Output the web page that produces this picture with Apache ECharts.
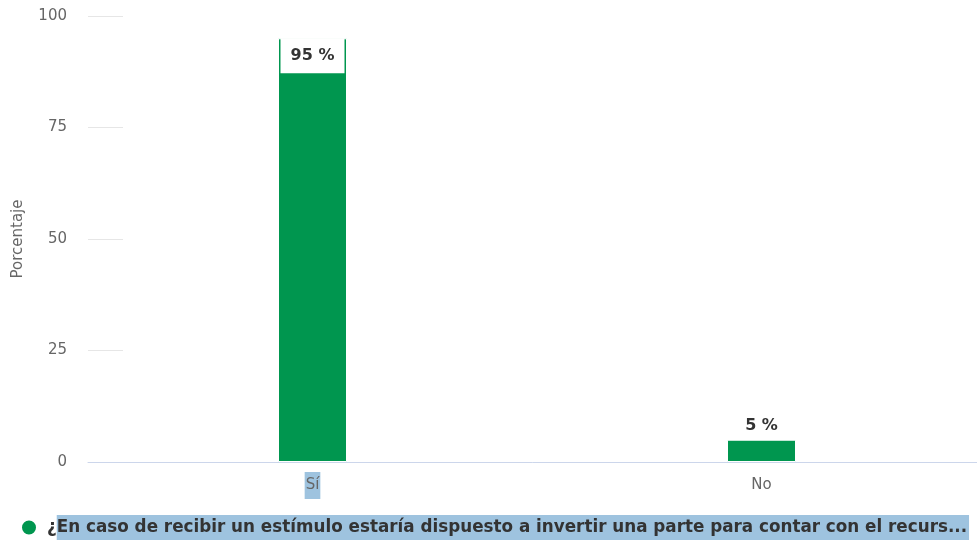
<!DOCTYPE html>
<html>
<head>
<meta charset="utf-8">
<script src="https://cdn.jsdelivr.net/npm/echarts@6/dist/echarts.min.js"></script>
<style>
  html, body { margin: 0; padding: 0; background: #fff; }
  #main { width: 977px; height: 544px; }
</style>
</head>
<body>
<div id="main"></div>
<script>
// datos
var categories = ['Sí', 'No'];
var valores = [95, 5];
var yTicks = [0, 25, 50, 75, 100];
var serieNombre = '¿En caso de recibir un estímulo estaría dispuesto a invertir una parte para contar con el recurs...';

var verde = '#00964f';
var resaltado = '#9ec3df';
var fuente = 'DejaVu Sans';

var chart = echarts.init(document.getElementById('main'));

// etiqueta de cada barra: la primera dentro con caja blanca
var datos = valores.map(function (v, i) {
	var item = { value: v };
	if (i === 0) {
		item.label = {
			position: 'insideTop',
			distance: 0,
			backgroundColor: '#fff',
			width: 64,
			padding: [8, 0, 8, 0],
			lineHeight: 19,
			align: 'center'
		};
	}
	return item;
});

var option = {
	animation: false,
	textStyle: { fontFamily: fuente },
	grid: { left: 88, top: 16, width: 898, height: 446, containLabel: false, outerBoundsMode: 'none' },
	legend: {
		left: 20,
		top: 515,
		padding: 0,
		icon: 'circle',
		itemWidth: 16,
		itemHeight: 16,
		itemGap: 8,
		data: [serieNombre],
		formatter: function (n) {
			return '{a|' + n.charAt(0) + '}{b|' + n.slice(1) + '}';
		},
		textStyle: {
			rich: {
				a: { fontFamily: fuente, fontSize: 16.8, fontWeight: 'bold', color: '#333', padding: [4, 0, 4, 5] },
				b: { fontFamily: fuente, fontSize: 16.8, fontWeight: 'bold', color: '#333', backgroundColor: resaltado, padding: [4, 2, 4, 0] }
			}
		}
	},
	xAxis: {
		type: 'category',
		data: categories,
		z: 5,
		axisLine: { show: true, lineStyle: { color: '#ccd6eb', width: 1 } },
		axisTick: { show: false },
		axisLabel: {
			margin: 10,
			formatter: function (v, i) {
				return i === 0 ? '{s|' + v + '}' : '{n|' + v + '}';
			},
			rich: {
				s: { fontFamily: fuente, fontSize: 15, color: '#666', backgroundColor: resaltado, padding: [6, 1, 6, 1] },
				n: { fontFamily: fuente, fontSize: 15, color: '#666', padding: [6, 1, 6, 1] }
			}
		}
	},
	yAxis: {
		type: 'value',
		min: yTicks[0],
		max: yTicks[yTicks.length - 1],
		interval: 25,
		name: 'Porcentaje',
		nameLocation: 'middle',
		nameGap: 62,
		nameRotate: 90,
		nameTextStyle: { fontFamily: fuente, fontSize: 15, color: '#666' },
		axisLine: { show: false },
		axisTick: { show: true, inside: true, length: 35, lineStyle: { color: '#e6e6e6', width: 1 } },
		splitLine: { show: false },
		axisLabel: { margin: 21, fontFamily: fuente, fontSize: 15, color: '#666' }
	},
	series: [{
		name: serieNombre,
		type: 'bar',
		barWidth: 69,
		data: datos,
		itemStyle: { color: verde, borderColor: '#fff', borderWidth: 1 },
		label: {
			show: true,
			position: 'top',
			distance: 6,
			formatter: '{c} %',
			fontFamily: fuente,
			fontSize: 16,
			fontWeight: 'bold',
			color: '#333'
		}
	}]
};

chart.setOption(option);
</script>
</body>
</html>
